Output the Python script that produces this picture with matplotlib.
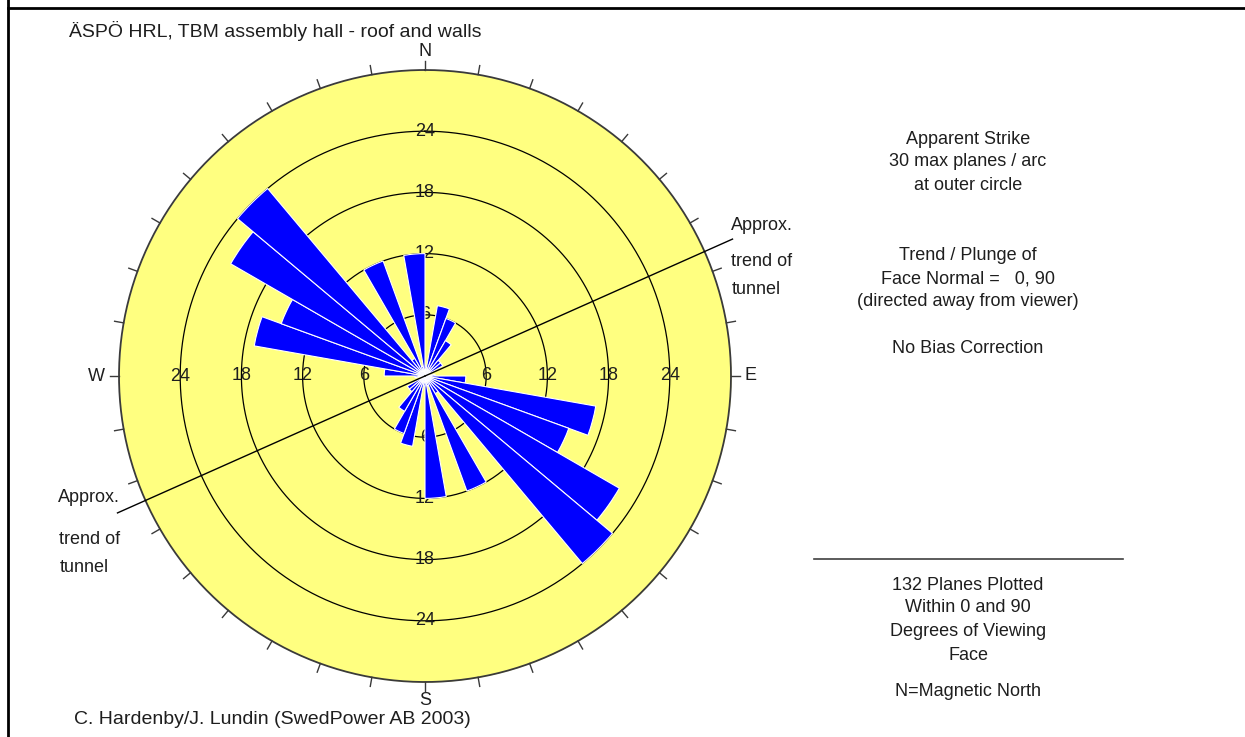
import numpy as np
import matplotlib.pyplot as plt
from matplotlib.lines import Line2D

plt.rcParams['font.family'] = ['Liberation Sans', 'DejaVu Sans']

# apparent strike, 10 degree bins from 0 to 180 (rose is bidirectional)
bin_starts = np.arange(0, 180, 10)
planes = [1, 7, 6, 4, 2, 2, 0, 0, 1, 4, 17, 15, 22, 24, 2, 12, 1, 12]
ring_values = [6, 12, 18, 24]
outer_ring = 30
tunnel_trend = 66
cardinals = ['N', 'E', 'S', 'W']

W, H = 1245, 737
yellow = '#ffff80'
blue = '#0000ff'
ink = '#1e1e1e'

def fx(x):
    return x / W

def fy(y):
    return 1 - y / H

fig = plt.figure(figsize=(W / 100, H / 100), dpi=100)

# polar axes placed so the centre sits at (425, 376) px, 10.2 px per plane
rmax = 34
scale = 10.2
cx, cy = 425, 376
rad = rmax * scale
ax = fig.add_axes([fx(cx - rad), (H - cy - rad) / H, 2 * rad / W, 2 * rad / H],
                  projection='polar')
ax.set_theta_zero_location('N')
ax.set_theta_direction(-1)
ax.set_rlim(0, rmax)
ax.set_axis_off()

full = np.linspace(0, 2 * np.pi, 400)
ax.fill_between(full, 0, outer_ring, color=yellow, zorder=1, lw=0)
for r in ring_values:
    ax.plot(full, np.full_like(full, r), color='black', lw=0.9, zorder=2)
ax.plot(full, np.full_like(full, outer_ring), color='#3a3a3a', lw=1.3, zorder=2)

# ring labels along the four axes (under the petals)
for i in range(4):
    th = np.deg2rad(90 * i)
    for r in ring_values:
        ax.text(th, r, str(r), ha='center', va='center', fontsize=13,
                color=ink, zorder=3)

# petals, each strike also plotted in the opposite direction
centres = np.deg2rad(np.concatenate([bin_starts + 5, bin_starts + 185]))
counts = np.concatenate([planes, planes])
ax.bar(centres, counts, width=np.deg2rad(10), bottom=0, color=blue,
       edgecolor='white', linewidth=0.8, align='center', zorder=4)

# tunnel trend line through the centre
for t in [tunnel_trend, tunnel_trend + 180]:
    ax.plot([np.deg2rad(t)] * 2, [0, 33], color='black', lw=1, zorder=5)

# ticks every 10 degrees outside the outer circle
for t in range(0, 360, 10):
    ax.plot([np.deg2rad(t)] * 2, [outer_ring, outer_ring + 0.9],
            color='#3a3a3a', lw=1, zorder=5)

card_r = [31.8, 31.9, 31.8, 32.2]
for i, lab in enumerate(cardinals):
    ax.text(np.deg2rad(90 * i), card_r[i], lab, ha='center', va='center',
            fontsize=13, color=ink)

# text around the plot
fig.text(fx(275), fy(31), 'ÄSPÖ HRL, TBM assembly hall - roof and walls',
         ha='center', va='center', fontsize=14, color=ink)
fig.text(fx(272), fy(719), 'C. Hardenby/J. Lundin (SwedPower AB 2003)',
         ha='center', va='center', fontsize=14, color=ink)

right_lines = [('Apparent Strike', 139), ('30 max planes / arc', 162),
               ('at outer circle', 185), ('Trend / Plunge of', 256),
               ('Face Normal =   0, 90', 279), ('(directed away from viewer)', 302),
               ('No Bias Correction', 349), ('132 Planes Plotted', 585),
               ('Within 0 and 90', 608), ('Degrees of Viewing', 632),
               ('Face', 655), ('N=Magnetic North', 691)]
for s, y in right_lines:
    fig.text(fx(968), fy(y), s, ha='center', va='center', fontsize=13, color=ink)

for s, x, y in [('Approx.', 731, 226), ('trend of', 731, 261), ('tunnel', 732, 289),
                ('Approx.', 58, 497), ('trend of', 59, 540), ('tunnel', 60, 567)]:
    fig.text(fx(x), fy(y), s, ha='left', va='center', fontsize=13, color=ink)

fig.add_artist(Line2D([fx(814), fx(1123)], [fy(559), fy(559)], color='#404040', lw=1.2))
fig.add_artist(Line2D([fx(8), fx(8)], [0, 1], color='black', lw=2))
fig.add_artist(Line2D([fx(8), 1], [fy(8), fy(8)], color='black', lw=2))

fig.savefig('out.png', dpi=100, facecolor='white')
